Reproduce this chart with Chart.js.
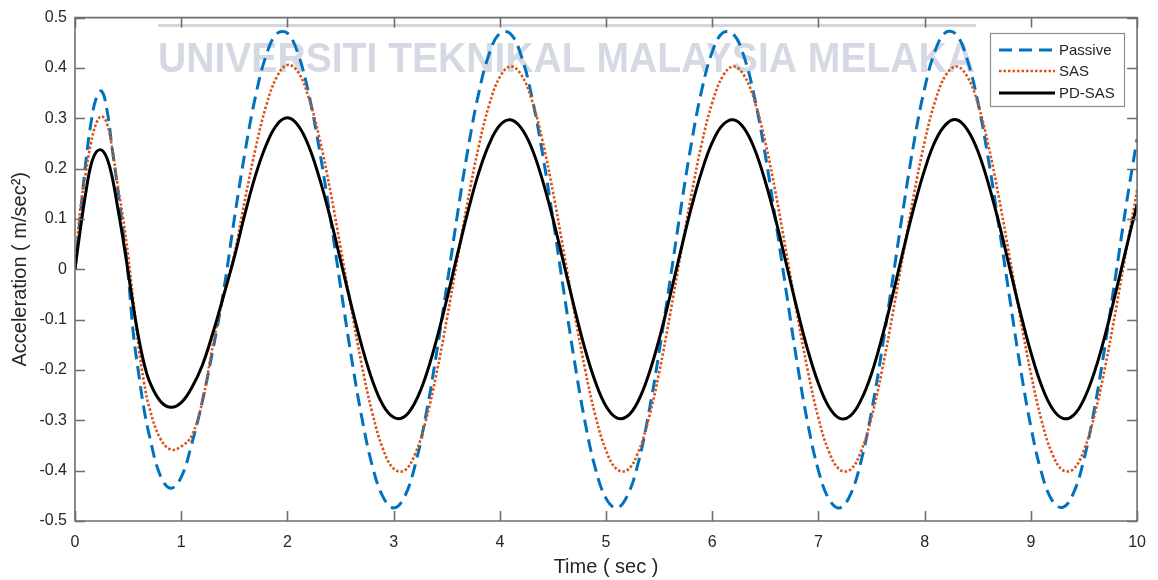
<!DOCTYPE html>
<html>
<head>
<meta charset="utf-8">
<title>Acceleration response</title>
<script src="https://cdn.jsdelivr.net/npm/chart.js@4.4.0/dist/chart.umd.min.js"></script>
<style>
  html, body { margin: 0; padding: 0; background: #fff; }
  #wrap { width: 1158px; height: 580px; }
</style>
</head>
<body>
<div id="wrap"><canvas id="accelCanvas" width="1158" height="580"></canvas></div>
<script>
// time axis (s), finer near the start where the transient is
const timeSec = [
  0, 0.05, 0.1, 0.15, 0.2, 0.25, 0.3, 0.35, 0.4, 0.45, 0.5, 0.55, 0.6, 0.65, 0.7,
  0.8, 0.9, 1.0, 1.1, 1.2, 1.3, 1.4, 1.5, 1.6, 1.7, 1.8, 1.9,
  2.0, 2.1, 2.2, 2.3, 2.4, 2.5, 2.6, 2.7, 2.8, 2.9,
  3.0, 3.1, 3.2, 3.3, 3.4, 3.5, 3.6, 3.7, 3.8, 3.9,
  4.0, 4.1, 4.2, 4.3, 4.4, 4.5, 4.6, 4.7, 4.8, 4.9,
  5.0, 5.1, 5.2, 5.3, 5.4, 5.5, 5.6, 5.7, 5.8, 5.9,
  6.0, 6.1, 6.2, 6.3, 6.4, 6.5, 6.6, 6.7, 6.8, 6.9,
  7.0, 7.1, 7.2, 7.3, 7.4, 7.5, 7.6, 7.7, 7.8, 7.9,
  8.0, 8.1, 8.2, 8.3, 8.4, 8.5, 8.6, 8.7, 8.8, 8.9,
  9.0, 9.1, 9.2, 9.3, 9.4, 9.5, 9.6, 9.7, 9.8, 9.9,
  10.0
];

// body acceleration (m/sec^2)
const passive = [
  0, 0.105, 0.210, 0.290, 0.340, 0.354, 0.318, 0.240, 0.163, 0.080, -0.010, -0.129, -0.208, -0.278, -0.330,
  -0.408, -0.435, -0.413, -0.346, -0.261, -0.158, -0.042, 0.100, 0.232, 0.344, 0.425, 0.468,
  0.469, 0.428, 0.349, 0.239, 0.108, -0.034, -0.172, -0.294, -0.391, -0.452,
  -0.474, -0.453, -0.391, -0.294, -0.172, -0.034, 0.108, 0.239, 0.349, 0.428,
  0.469, 0.468, 0.425, 0.344, 0.232, 0.100, -0.041, -0.179, -0.301, -0.396,
  -0.455, -0.474, -0.450, -0.387, -0.288, -0.164, -0.026, 0.115, 0.246, 0.355,
  0.432, 0.470, 0.467, 0.422, 0.339, 0.226, 0.092, -0.049, -0.187, -0.307,
  -0.400, -0.457, -0.474, -0.448, -0.382, -0.282, -0.157, -0.018, 0.123, 0.253,
  0.360, 0.435, 0.471, 0.466, 0.417, 0.333, 0.218, 0.084, -0.057, -0.194,
  -0.313, -0.404, -0.459, -0.473, -0.445, -0.377, -0.275, -0.149, -0.010, 0.131,
  0.259
];

const sas = [
  0, 0.120, 0.190, 0.250, 0.290, 0.304, 0.290, 0.240, 0.170, 0.105, 0.027, -0.065, -0.155, -0.225, -0.275,
  -0.335, -0.358, -0.352, -0.330, -0.262, -0.148, -0.050, 0.030, 0.138, 0.240, 0.325, 0.382,
  0.406, 0.392, 0.341, 0.262, 0.160, 0.044, -0.076, -0.190, -0.286, -0.357,
  -0.396, -0.400, -0.368, -0.303, -0.211, -0.100, 0.020, 0.138, 0.243, 0.327,
  0.382, 0.403, 0.387, 0.337, 0.257, 0.154, 0.037, -0.083, -0.196, -0.291,
  -0.360, -0.397, -0.399, -0.365, -0.298, -0.205, -0.093, 0.027, 0.144, 0.249,
  0.331, 0.384, 0.403, 0.385, 0.333, 0.252, 0.148, 0.030, -0.090, -0.202,
  -0.296, -0.363, -0.398, -0.398, -0.362, -0.294, -0.199, -0.087, 0.033, 0.150,
  0.254, 0.335, 0.386, 0.403, 0.383, 0.330, 0.246, 0.141, 0.024, -0.096,
  -0.207, -0.300, -0.366, -0.399, -0.397, -0.359, -0.289, -0.193, -0.080, 0.040,
  0.157
];

const pdSas = [
  0, 0.079, 0.150, 0.207, 0.233, 0.237, 0.221, 0.183, 0.125, 0.063, -0.005, -0.075, -0.137, -0.187, -0.222,
  -0.261, -0.274, -0.265, -0.235, -0.190, -0.125, -0.052, 0.024, 0.110, 0.187, 0.247, 0.287,
  0.301, 0.286, 0.245, 0.182, 0.105, 0.018, -0.070, -0.152, -0.221, -0.270,
  -0.294, -0.293, -0.265, -0.214, -0.143, -0.060, 0.029, 0.115, 0.191, 0.249,
  0.286, 0.297, 0.281, 0.241, 0.178, 0.100, 0.013, -0.075, -0.157, -0.224,
  -0.272, -0.295, -0.292, -0.263, -0.210, -0.139, -0.055, 0.034, 0.120, 0.194,
  0.252, 0.287, 0.297, 0.280, 0.238, 0.174, 0.096, 0.008, -0.080, -0.161,
  -0.227, -0.274, -0.296, -0.291, -0.260, -0.207, -0.134, -0.050, 0.039, 0.124,
  0.198, 0.255, 0.288, 0.297, 0.278, 0.235, 0.170, 0.091, 0.003, -0.085,
  -0.165, -0.231, -0.276, -0.296, -0.290, -0.258, -0.203, -0.130, -0.045, 0.044,
  0.129
];

const seriesNames = ["Passive", "SAS", "PD-SAS"];
const xTicks = [0, 1, 2, 3, 4, 5, 6, 7, 8, 9, 10];
const yTicks = [0.5, 0.4, 0.3, 0.2, 0.1, 0, -0.1, -0.2, -0.3, -0.4, -0.5];

const FONT = "'Liberation Sans', Arial, Helvetica, sans-serif";
const TEXT = "#262626";
const AXIS = "#6e6e6e";

const styles = [
  { color: "#0072BD", dash: [13, 7], width: 3 },
  { color: "#D95319", dash: [2.5, 2], width: 2.6 },
  { color: "#000000", dash: [], width: 3 },
];

function toPoints(values) {
  return values.map((v, i) => ({ x: timeSec[i], y: v }));
}

// watermark text and rule behind the curves
const watermark = {
  id: "watermark",
  beforeDatasetsDraw(chart) {
    const ctx = chart.ctx;
    ctx.save();
    ctx.strokeStyle = "#d3d6de";
    ctx.lineWidth = 3;
    ctx.beginPath();
    ctx.moveTo(158, 25.5);
    ctx.lineTo(976, 25.5);
    ctx.stroke();

    const text = "UNIVERSITI TEKNIKAL MALAYSIA MELAKA";
    ctx.font = "bold 42px " + FONT;
    const w = ctx.measureText(text).width;
    ctx.translate(158, 72);
    ctx.scale(817 / w, 1);
    ctx.fillStyle = "#d5d9e4";
    ctx.textBaseline = "alphabetic";
    ctx.fillText(text, 0, 0);
    ctx.restore();
  },
};

// box axes with inward ticks, plus legend
const boxAxes = {
  id: "boxAxes",
  afterDatasetsDraw(chart) {
    const { ctx, chartArea: a, scales } = chart;
    const tl = 10;
    ctx.save();
    ctx.strokeStyle = AXIS;
    ctx.lineWidth = 1.6;
    ctx.beginPath();
    ctx.rect(a.left, a.top, a.right - a.left, a.bottom - a.top);
    ctx.stroke();

    ctx.beginPath();
    xTicks.forEach((v) => {
      const px = Math.round(scales.x.getPixelForValue(v)) + 0.5;
      ctx.moveTo(px, a.bottom);
      ctx.lineTo(px, a.bottom - tl);
      ctx.moveTo(px, a.top);
      ctx.lineTo(px, a.top + tl);
    });
    yTicks.forEach((v) => {
      const py = Math.round(scales.y.getPixelForValue(v)) + 0.5;
      ctx.moveTo(a.left, py);
      ctx.lineTo(a.left + tl, py);
      ctx.moveTo(a.right, py);
      ctx.lineTo(a.right - tl, py);
    });
    ctx.stroke();

    // legend
    const bx = 990.5, by = 33.5, bw = 134, bh = 73;
    ctx.fillStyle = "#ffffff";
    ctx.fillRect(bx, by, bw, bh);
    ctx.strokeStyle = "#8c8c8c";
    ctx.lineWidth = 1.2;
    ctx.strokeRect(bx, by, bw, bh);
    const rows = [50, 71, 93];
    seriesNames.forEach((name, i) => {
      const s = styles[i];
      ctx.strokeStyle = s.color;
      ctx.lineWidth = s.width;
      ctx.setLineDash(s.dash);
      ctx.beginPath();
      ctx.moveTo(999, rows[i]);
      ctx.lineTo(1055, rows[i]);
      ctx.stroke();
      ctx.setLineDash([]);
      ctx.fillStyle = TEXT;
      ctx.font = "15px " + FONT;
      ctx.textBaseline = "middle";
      ctx.textAlign = "left";
      ctx.fillText(name, 1059, rows[i] + 1);
    });
    ctx.restore();
  },
};

const seriesValues = [passive, sas, pdSas];

new Chart(document.getElementById("accelCanvas").getContext("2d"), {
  type: "line",
  data: {
    datasets: seriesValues.map((vals, i) => ({
      label: seriesNames[i],
      data: toPoints(vals),
      borderColor: styles[i].color,
      borderWidth: styles[i].width,
      borderDash: styles[i].dash,
      borderCapStyle: "butt",
      pointRadius: 0,
      fill: false,
      tension: 0.4,
      order: 2 - i,
    })),
  },
  options: {
    responsive: false,
    animation: false,
    events: [],
    layout: { padding: { top: 16, right: 17.5, left: 0, bottom: 0 } },
    plugins: {
      legend: { display: false },
      tooltip: { enabled: false },
    },
    scales: {
      x: {
        type: "linear",
        min: 0,
        max: 10,
        afterFit: (s) => { s.height = 59; },
        afterBuildTicks: (s) => { s.ticks = xTicks.map((v) => ({ value: v })); },
        grid: { display: false, drawTicks: false },
        border: { display: false },
        ticks: {
          autoSkip: false,
          maxRotation: 0,
          padding: 12,
          color: TEXT,
          font: { family: FONT, size: 16 },
        },
        title: {
          display: true,
          text: "Time ( sec )",
          color: TEXT,
          font: { family: FONT, size: 20 },
          padding: { top: 0, bottom: 1 },
        },
      },
      y: {
        min: -0.5,
        max: 0.5,
        afterFit: (s) => { s.width = 75; },
        afterBuildTicks: (s) => { s.ticks = yTicks.map((v) => ({ value: v })); },
        grid: { display: false, drawTicks: false },
        border: { display: false },
        ticks: {
          padding: 8,
          color: TEXT,
          font: { family: FONT, size: 16 },
          callback: (v) => String(Number(v.toFixed(1))),
        },
        title: {
          display: true,
          text: "Acceleration ( m/sec\u00B2)",
          color: TEXT,
          font: { family: FONT, size: 20 },
          padding: { top: 8, bottom: 0 },
        },
      },
    },
  },
  plugins: [watermark, boxAxes],
});
</script>
</body>
</html>
